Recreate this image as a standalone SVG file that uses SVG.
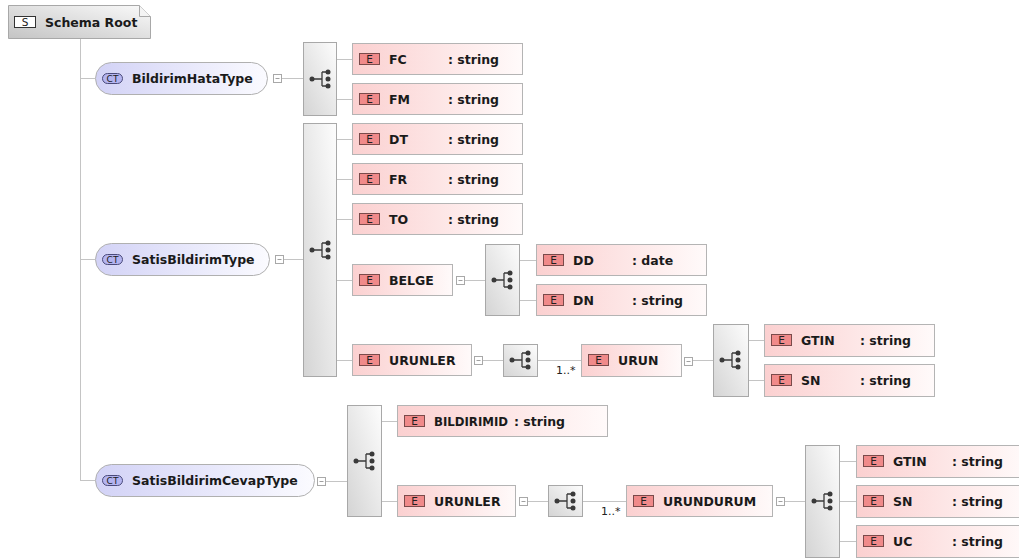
<svg xmlns="http://www.w3.org/2000/svg" xmlns:xlink="http://www.w3.org/1999/xlink" width="1019" height="559" viewBox="0 0 1019 559">
<style>
.el{fill:url(#eg);stroke:#b4b4b4;stroke-width:1}
.ct{fill:url(#cg);stroke:#b0b0b0;stroke-width:1}
.seq{fill:url(#sg);stroke:#a8a8a8;stroke-width:1}
.badge{fill:#f08a8a;stroke:#7a4a4a;stroke-width:1}
.ctb{fill:#b4b4f0;stroke:#4a4a7a;stroke-width:1}
.bt{font-family:"DejaVu Sans",sans-serif;font-size:10.5px;fill:#202020;text-anchor:middle}
.nm{font-family:"DejaVu Sans",sans-serif;font-weight:bold;font-size:12.5px;fill:#1a1a1a}
.card{font-family:"DejaVu Sans",sans-serif;font-size:11px;fill:#222}
.ln{stroke:#c4c4c4;stroke-width:1;fill:none}
.col{fill:#fff;stroke:#a8a8a8;stroke-width:1}
.colm{stroke:#a0a0a0;stroke-width:1}
.ic{fill:#3a3a3a}
.icl{stroke:#3a3a3a;stroke-width:1.3;fill:none}
</style>
<defs>
<linearGradient id="eg" x1="0" y1="0" x2="1" y2="0"><stop offset="0" stop-color="#fbd0d0"/><stop offset="1" stop-color="#fffafa"/></linearGradient>
<linearGradient id="cg" x1="0" y1="0" x2="1" y2="0"><stop offset="0" stop-color="#d2d2f6"/><stop offset="1" stop-color="#fbfbff"/></linearGradient>
<linearGradient id="sg" x1="0" y1="1" x2="1" y2="0"><stop offset="0" stop-color="#d4d4d4"/><stop offset="1" stop-color="#fdfdfd"/></linearGradient>
<linearGradient id="rg" x1="0" y1="1" x2="1" y2="0"><stop offset="0" stop-color="#c4c4c4"/><stop offset="1" stop-color="#fafafa"/></linearGradient>
<g id="seqicon">
<path class="icl" d="M-8,0 H2 M2,-7 V7 M2,-7 H8 M2,7 H8"/>
<circle class="ic" cx="-8" cy="0" r="2.5"/>
<circle class="ic" cx="8" cy="-7" r="2.5"/>
<circle class="ic" cx="8" cy="0" r="2.5"/>
<circle class="ic" cx="8" cy="7" r="2.5"/>
</g>
<g id="collapse">
<rect class="col" x="0" y="0" width="8" height="8"/>
<path class="colm" d="M2,4 H6"/>
</g>
</defs>
<rect width="1019" height="559" fill="#fff"/>

<g id="connectors">
<path class="ln" d="M80.5,38 V480.5 M80,78.5 H95 M80,259.5 H95 M80,480.5 H95"/>
<path class="ln" d="M282,78.5 H303 M336,59.5 H352 M336,99.5 H352"/>
<path class="ln" d="M284,259.5 H303 M336,139.5 H352 M336,179.5 H352 M336,219.5 H352 M336,280.5 H352 M336,360.5 H352"/>
<path class="ln" d="M465,280.5 H485 M519,260.5 H536 M519,300.5 H536"/>
<path class="ln" d="M483,360.5 H503 M537,360.5 H581 M693,360.5 H713 M748,340.5 H764 M748,380.5 H764"/>
<path class="ln" d="M326,481.5 H347 M382,421.5 H397 M382,501.5 H397"/>
<path class="ln" d="M528,501.5 H548 M582,501.5 H626 M785,501.5 H805 M839,461.5 H856 M839,501.5 H856 M839,541.5 H856"/>
<text class="card" x="556" y="374">1..*</text>
<text class="card" x="601" y="515">1..*</text>
</g>

<g id="root">
<path d="M8.5,5.5 H139.5 L150.5,16.5 V38.5 H8.5 Z" fill="url(#rg)" stroke="#a8a8a8"/>
<path d="M139.5,5.5 V16.5 H150.5" fill="#f4f4f4" stroke="#a8a8a8"/>
<rect x="14.5" y="16.5" width="21" height="11" fill="#fff" stroke="#333"/>
<text class="bt" x="25" y="26">S</text>
<text class="nm" x="45" y="27">Schema Root</text>
</g>

<g id="ct-BildirimHataType">
<rect class="ct" x="95.5" y="62.5" width="172" height="32" rx="16"/>
<rect class="ctb" x="102.5" y="73.5" width="20" height="10" rx="5"/>
<text class="bt" x="112.5" y="82" style="font-size:9px">CT</text>
<text class="nm" x="132" y="83">BildirimHataType</text>
<use href="#collapse" x="273.5" y="74.5"/>
</g>
<g id="seq1"><rect class="seq" x="303.5" y="42.5" width="33" height="73"/><use href="#seqicon" x="320" y="79"/></g>
<g id="el-FC"><rect class="el" x="352.5" y="43.5" width="170" height="31"/><rect class="badge" x="359.5" y="53.5" width="20" height="11"/><text class="bt" x="369.5" y="63">E</text><text class="nm" x="389" y="64">FC</text><text class="nm" x="448" y="64">: string</text></g>
<g id="el-FM"><rect class="el" x="352.5" y="83.5" width="170" height="31"/><rect class="badge" x="359.5" y="93.5" width="20" height="11"/><text class="bt" x="369.5" y="103">E</text><text class="nm" x="389" y="104">FM</text><text class="nm" x="448" y="104">: string</text></g>

<g id="ct-SatisBildirimType">
<rect class="ct" x="95.5" y="243.5" width="174" height="32" rx="16"/>
<rect class="ctb" x="102.5" y="254.5" width="20" height="10" rx="5"/>
<text class="bt" x="112.5" y="263" style="font-size:9px">CT</text>
<text class="nm" x="132" y="264">SatisBildirimType</text>
<use href="#collapse" x="275.5" y="255.5"/>
</g>
<g id="seq2"><rect class="seq" x="303.5" y="123.5" width="33" height="253"/><use href="#seqicon" x="320" y="250"/></g>
<g id="el-DT"><rect class="el" x="352.5" y="123.5" width="170" height="31"/><rect class="badge" x="359.5" y="133.5" width="20" height="11"/><text class="bt" x="369.5" y="143">E</text><text class="nm" x="389" y="144">DT</text><text class="nm" x="448" y="144">: string</text></g>
<g id="el-FR"><rect class="el" x="352.5" y="163.5" width="170" height="31"/><rect class="badge" x="359.5" y="173.5" width="20" height="11"/><text class="bt" x="369.5" y="183">E</text><text class="nm" x="389" y="184">FR</text><text class="nm" x="448" y="184">: string</text></g>
<g id="el-TO"><rect class="el" x="352.5" y="203.5" width="170" height="31"/><rect class="badge" x="359.5" y="213.5" width="20" height="11"/><text class="bt" x="369.5" y="223">E</text><text class="nm" x="389" y="224">TO</text><text class="nm" x="448" y="224">: string</text></g>
<g id="el-BELGE"><rect class="el" x="352.5" y="264.5" width="100" height="31"/><rect class="badge" x="359.5" y="274.5" width="20" height="11"/><text class="bt" x="369.5" y="284">E</text><text class="nm" x="389" y="285">BELGE</text><use href="#collapse" x="456.5" y="276.5"/></g>
<g id="seq3"><rect class="seq" x="485.5" y="244.5" width="34" height="71"/><use href="#seqicon" x="502" y="280"/></g>
<g id="el-DD"><rect class="el" x="536.5" y="244.5" width="170" height="31"/><rect class="badge" x="543.5" y="254.5" width="20" height="11"/><text class="bt" x="553.5" y="264">E</text><text class="nm" x="573" y="265">DD</text><text class="nm" x="632" y="265">: date</text></g>
<g id="el-DN"><rect class="el" x="536.5" y="284.5" width="170" height="31"/><rect class="badge" x="543.5" y="294.5" width="20" height="11"/><text class="bt" x="553.5" y="304">E</text><text class="nm" x="573" y="305">DN</text><text class="nm" x="632" y="305">: string</text></g>
<g id="el-URUNLER"><rect class="el" x="352.5" y="344.5" width="119" height="31"/><rect class="badge" x="359.5" y="354.5" width="20" height="11"/><text class="bt" x="369.5" y="364">E</text><text class="nm" x="389" y="365">URUNLER</text><use href="#collapse" x="474.5" y="356.5"/></g>
<g id="seq4"><rect class="seq" x="503.5" y="344.5" width="34" height="32"/><use href="#seqicon" x="520" y="360"/></g>
<g id="el-URUN"><rect class="el" x="581.5" y="344.5" width="100" height="32"/><rect class="badge" x="588.5" y="354.5" width="20" height="11"/><text class="bt" x="598.5" y="364">E</text><text class="nm" x="618" y="365">URUN</text><use href="#collapse" x="684.5" y="357.5"/></g>
<g id="seq5"><rect class="seq" x="713.5" y="324.5" width="35" height="72"/><use href="#seqicon" x="730" y="360"/></g>
<g id="el-GTIN"><rect class="el" x="764.5" y="324.5" width="170" height="32"/><rect class="badge" x="771.5" y="334.5" width="20" height="11"/><text class="bt" x="781.5" y="344">E</text><text class="nm" x="801" y="345">GTIN</text><text class="nm" x="860" y="345">: string</text></g>
<g id="el-SN"><rect class="el" x="764.5" y="364.5" width="170" height="32"/><rect class="badge" x="771.5" y="374.5" width="20" height="11"/><text class="bt" x="781.5" y="384">E</text><text class="nm" x="801" y="385">SN</text><text class="nm" x="860" y="385">: string</text></g>

<g id="ct-SatisBildirimCevapType">
<rect class="ct" x="95.5" y="464.5" width="219" height="32" rx="16"/>
<rect class="ctb" x="102.5" y="475.5" width="20" height="10" rx="5"/>
<text class="bt" x="112.5" y="484" style="font-size:9px">CT</text>
<text class="nm" x="132" y="485">SatisBildirimCevapType</text>
<use href="#collapse" x="317.5" y="477.5"/>
</g>
<g id="seq6"><rect class="seq" x="347.5" y="405.5" width="34" height="111"/><use href="#seqicon" x="364" y="461"/></g>
<g id="el-BILDIRIMID"><rect class="el" x="397.5" y="405.5" width="210" height="31"/><rect class="badge" x="404.5" y="415.5" width="20" height="11"/><text class="bt" x="414.5" y="425">E</text><text class="nm" x="434" y="426" textLength="74" lengthAdjust="spacingAndGlyphs">BILDIRIMID</text><text class="nm" x="514" y="426">: string</text></g>
<g id="el-URUNLER2"><rect class="el" x="397.5" y="485.5" width="118" height="31"/><rect class="badge" x="404.5" y="495.5" width="20" height="11"/><text class="bt" x="414.5" y="505">E</text><text class="nm" x="434" y="506">URUNLER</text><use href="#collapse" x="519.5" y="497.5"/></g>
<g id="seq7"><rect class="seq" x="548.5" y="485.5" width="34" height="31"/><use href="#seqicon" x="565" y="501"/></g>
<g id="el-URUNDURUM"><rect class="el" x="626.5" y="485.5" width="146" height="31"/><rect class="badge" x="633.5" y="495.5" width="20" height="11"/><text class="bt" x="643.5" y="505">E</text><text class="nm" x="663" y="506">URUNDURUM</text><use href="#collapse" x="776.5" y="497.5"/></g>
<g id="seq8"><rect class="seq" x="805.5" y="445.5" width="34" height="112"/><use href="#seqicon" x="822" y="501"/></g>
<g id="el-GTIN2"><rect class="el" x="856.5" y="445.5" width="170" height="32"/><rect class="badge" x="863.5" y="455.5" width="20" height="11"/><text class="bt" x="873.5" y="465">E</text><text class="nm" x="893" y="466">GTIN</text><text class="nm" x="952" y="466">: string</text></g>
<g id="el-SN2"><rect class="el" x="856.5" y="485.5" width="170" height="32"/><rect class="badge" x="863.5" y="495.5" width="20" height="11"/><text class="bt" x="873.5" y="505">E</text><text class="nm" x="893" y="506">SN</text><text class="nm" x="952" y="506">: string</text></g>
<g id="el-UC"><rect class="el" x="856.5" y="525.5" width="170" height="32"/><rect class="badge" x="863.5" y="535.5" width="20" height="11"/><text class="bt" x="873.5" y="545">E</text><text class="nm" x="893" y="546">UC</text><text class="nm" x="952" y="546">: string</text></g>
</svg>
